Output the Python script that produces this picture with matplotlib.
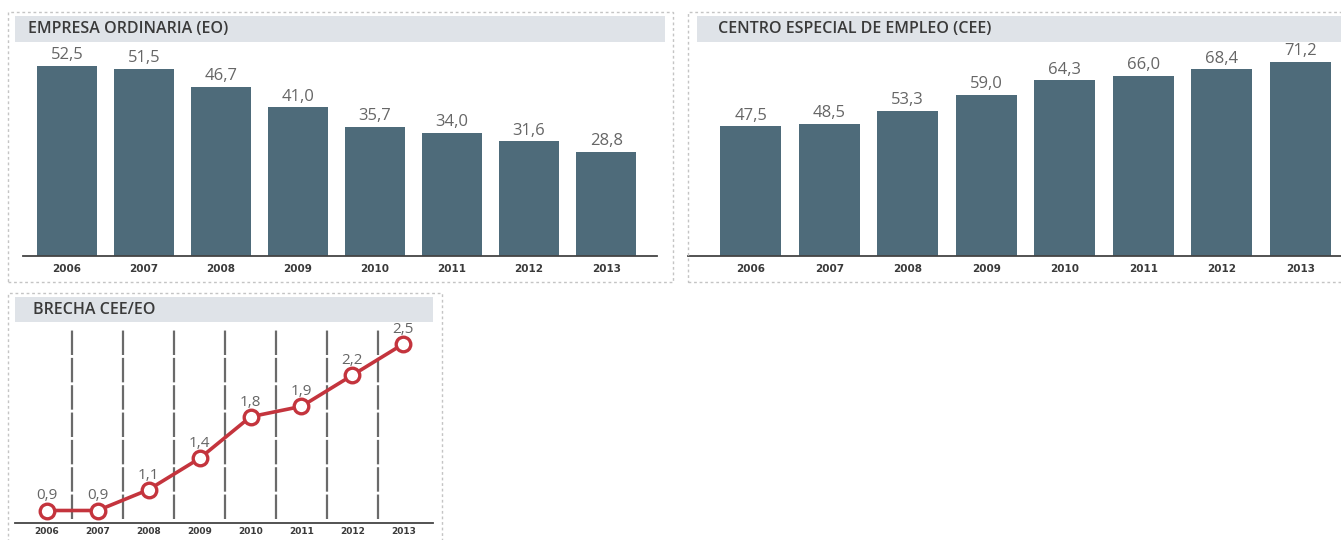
import numpy as np
import matplotlib
matplotlib.use("Agg")
import matplotlib.pyplot as plt
from matplotlib.patches import Rectangle

# --- data ---
years = ["2006", "2007", "2008", "2009", "2010", "2011", "2012", "2013"]
eo = [52.5, 51.5, 46.7, 41.0, 35.7, 34.0, 31.6, 28.8]
cee = [47.5, 48.5, 53.3, 59.0, 64.3, 66.0, 68.4, 71.2]
brecha = [0.9, 0.9, 1.1, 1.4, 1.8, 1.9, 2.2, 2.5]

titles = ["EMPRESA ORDINARIA (EO)", "CENTRO ESPECIAL DE EMPLEO (CEE)", "BRECHA CEE/EO"]

BAR = "#4e6b7a"
RED = "#c4343d"
BAND = "#dfe3e8"
TXT = "#3a3a3a"
VAL = "#666666"

W, H = 1341, 540
plt.rcParams["font.family"] = ["Open Sans", "DejaVu Sans"]
fig = plt.figure(figsize=(W / 100, H / 100), dpi=100)


def px_axes(x0, y0, x1, y1):
    return fig.add_axes([x0 / W, 1 - y1 / H, (x1 - x0) / W, (y1 - y0) / H])


def panel(x0, y0, x1, y1, bx0, by0, bx1, by1, title, tx):
    # dotted frame + grey title band
    fig.patches.append(Rectangle((x0 / W, 1 - y1 / H), (x1 - x0) / W, (y1 - y0) / H,
                                 transform=fig.transFigure, fill=False,
                                 ec="#c4c4c4", lw=1.0, ls=(0, (2, 2))))
    fig.patches.append(Rectangle((bx0 / W, 1 - by1 / H), (bx1 - bx0) / W, (by1 - by0) / H,
                                 transform=fig.transFigure, fc=BAND, ec="none"))
    fig.text(tx / W, 1 - (by0 + by1) / 2 / H, title, fontsize=11.5, color=TXT,
             fontweight="semibold", va="center", ha="left")


def clean(ax):
    for s in ["top", "right", "left"]:
        ax.spines[s].set_visible(False)
    ax.spines["bottom"].set_color("#444444")
    ax.spines["bottom"].set_linewidth(1.3)
    ax.set_yticks([])
    ax.tick_params(axis="x", length=0)
    ax.patch.set_alpha(0)


def year_labels(ax, size, pad):
    ax.set_xticks(np.arange(len(years)))
    ax.set_xticklabels(years, fontsize=size, fontweight="bold", color=TXT,
                       family="DejaVu Sans")
    ax.tick_params(axis="x", pad=pad)


x = np.arange(len(years))

# --- panel 1: EO ---
panel(8, 12, 673, 282, 15, 16, 665, 42, titles[0], 28)
ax1 = px_axes(23, 42, 657, 256)
ax1.bar(x, eo, width=0.78, color=BAR)
ax1.set_xlim(-0.57, 7.66)
ax1.set_ylim(0, 59)
for xi, v in zip(x, eo):
    ax1.annotate(f"{v:.1f}".replace(".", ","), (xi, v), xytext=(0, 2),
                 textcoords="offset points", ha="center", va="bottom",
                 fontsize=12, color=VAL)
clean(ax1)
year_labels(ax1, 7.5, 6)

# --- panel 2: CEE ---
panel(688, 12, 1345, 282, 697, 16, 1341, 42, titles[1], 718)
ax2 = px_axes(688, 42, 1341, 256)
ax2.bar(x, cee, width=0.78, color=BAR)
ax2.set_xlim(-0.80, 7.52)
ax2.set_ylim(0, 78.4)
for xi, v in zip(x, cee):
    ax2.annotate(f"{v:.1f}".replace(".", ","), (xi, v), xytext=(0, 2),
                 textcoords="offset points", ha="center", va="bottom",
                 fontsize=12, color=VAL)
clean(ax2)
year_labels(ax2, 7.5, 6)

# --- panel 3: brecha ---
panel(8, 293, 442, 545, 15, 297, 433, 322, titles[2], 33)
ax3 = px_axes(15, 322, 433, 523)
ax3.set_xlim(-0.62, 7.58)
ax3.set_ylim(0.78, 2.71)
for d in x[:-1] + 0.5:
    ax3.axvline(d, ymin=0.02, ymax=0.97, color="#6a6a6a", lw=1.6, ls=(0, (11, 1.3)))
ax3.plot(x, brecha, color=RED, lw=2.6, marker="o", ms=10.5, mfc="white",
         mec=RED, mew=2.4, zorder=3)
for xi, v in zip(x, brecha):
    ax3.annotate(f"{v:.1f}".replace(".", ","), (xi, v), xytext=(0, 8),
                 textcoords="offset points", ha="center", va="baseline",
                 fontsize=11, color=VAL)
clean(ax3)
year_labels(ax3, 6.5, 3)

fig.savefig("out.png", dpi=100)
